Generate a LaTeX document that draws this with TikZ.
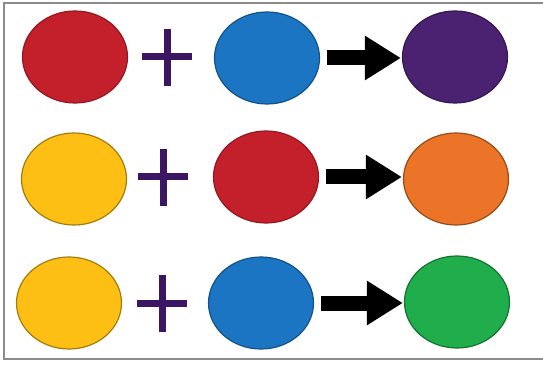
\documentclass[tikz,border=0pt]{standalone}
\usetikzlibrary{shapes.geometric,arrows.meta}
\definecolor{cred}{HTML}{C4202B}
\definecolor{cblue}{HTML}{1B75C2}
\definecolor{cpurple}{HTML}{4A2271}
\definecolor{cyellow}{HTML}{FDBF14}
\definecolor{corange}{HTML}{EB7428}
\definecolor{cgreen}{HTML}{1FAE4B}
\definecolor{plusc}{HTML}{3B1763}
\definecolor{framec}{HTML}{8C8C8C}
\tikzset{
  blob/.style={ellipse, minimum width=105pt, minimum height=92pt, inner sep=0pt, line width=1.2pt},
  redb/.style={blob, fill=cred, draw=cred!75!black},
  blueb/.style={blob, fill=cblue, draw=cblue!70!black},
  purpleb/.style={blob, fill=cpurple, draw=cpurple!70!black},
  yellowb/.style={blob, fill=cyellow, draw=cyellow!65!black},
  orangeb/.style={blob, fill=corange, draw=corange!65!black},
  greenb/.style={blob, fill=cgreen, draw=cgreen!65!black},
  plusarm/.style={draw=plusc, line width=7pt},
  bigarrow/.style={line width=15pt, -{Triangle[length=36pt,width=42pt]}, shorten <=7pt, shorten >=1pt}
}
\begin{document}
\begin{tikzpicture}[x=1pt,y=-1pt]
\useasboundingbox (0,0) rectangle (543,366);
\fill[white] (0,0) rectangle (543,366);
\draw[framec, line width=2pt] (543,3) -- (4,3) -- (4,359) -- (543,359);
% row 1
\node[redb] (a1) at (75,57) {};
\node[blueb] (b1) at (267,58) {};
\node[purpleb] (c1) at (455,57) {};
\coordinate (p1) at (167,57);
\draw[plusarm] ([xshift=-25pt]p1) -- ([xshift=25pt]p1);
\draw[plusarm] ([yshift=-29pt]p1) -- ([yshift=28pt]p1);
\draw[bigarrow] (b1.east) -- (c1.west |- b1.east);
% row 2
\node[yellowb] (a2) at (74,179) {};
\node[redb] (b2) at (266,177) {};
\node[orangeb] (c2) at (456,179) {};
\coordinate (p2) at (163,177);
\draw[plusarm] ([xshift=-25pt]p2) -- ([xshift=25pt]p2);
\draw[plusarm] ([yshift=-29pt]p2) -- ([yshift=28pt]p2);
\draw[bigarrow] (b2.east) -- (c2.west |- b2.east);
% row 3
\node[yellowb] (a3) at (69,303) {};
\node[blueb] (b3) at (261,303) {};
\node[greenb] (c3) at (457,302) {};
\coordinate (p3) at (162,303);
\draw[plusarm] ([xshift=-25pt]p3) -- ([xshift=25pt]p3);
\draw[plusarm] ([yshift=-29pt]p3) -- ([yshift=28pt]p3);
\draw[bigarrow] (b3.east) -- (c3.west |- b3.east);
\end{tikzpicture}
\end{document}
